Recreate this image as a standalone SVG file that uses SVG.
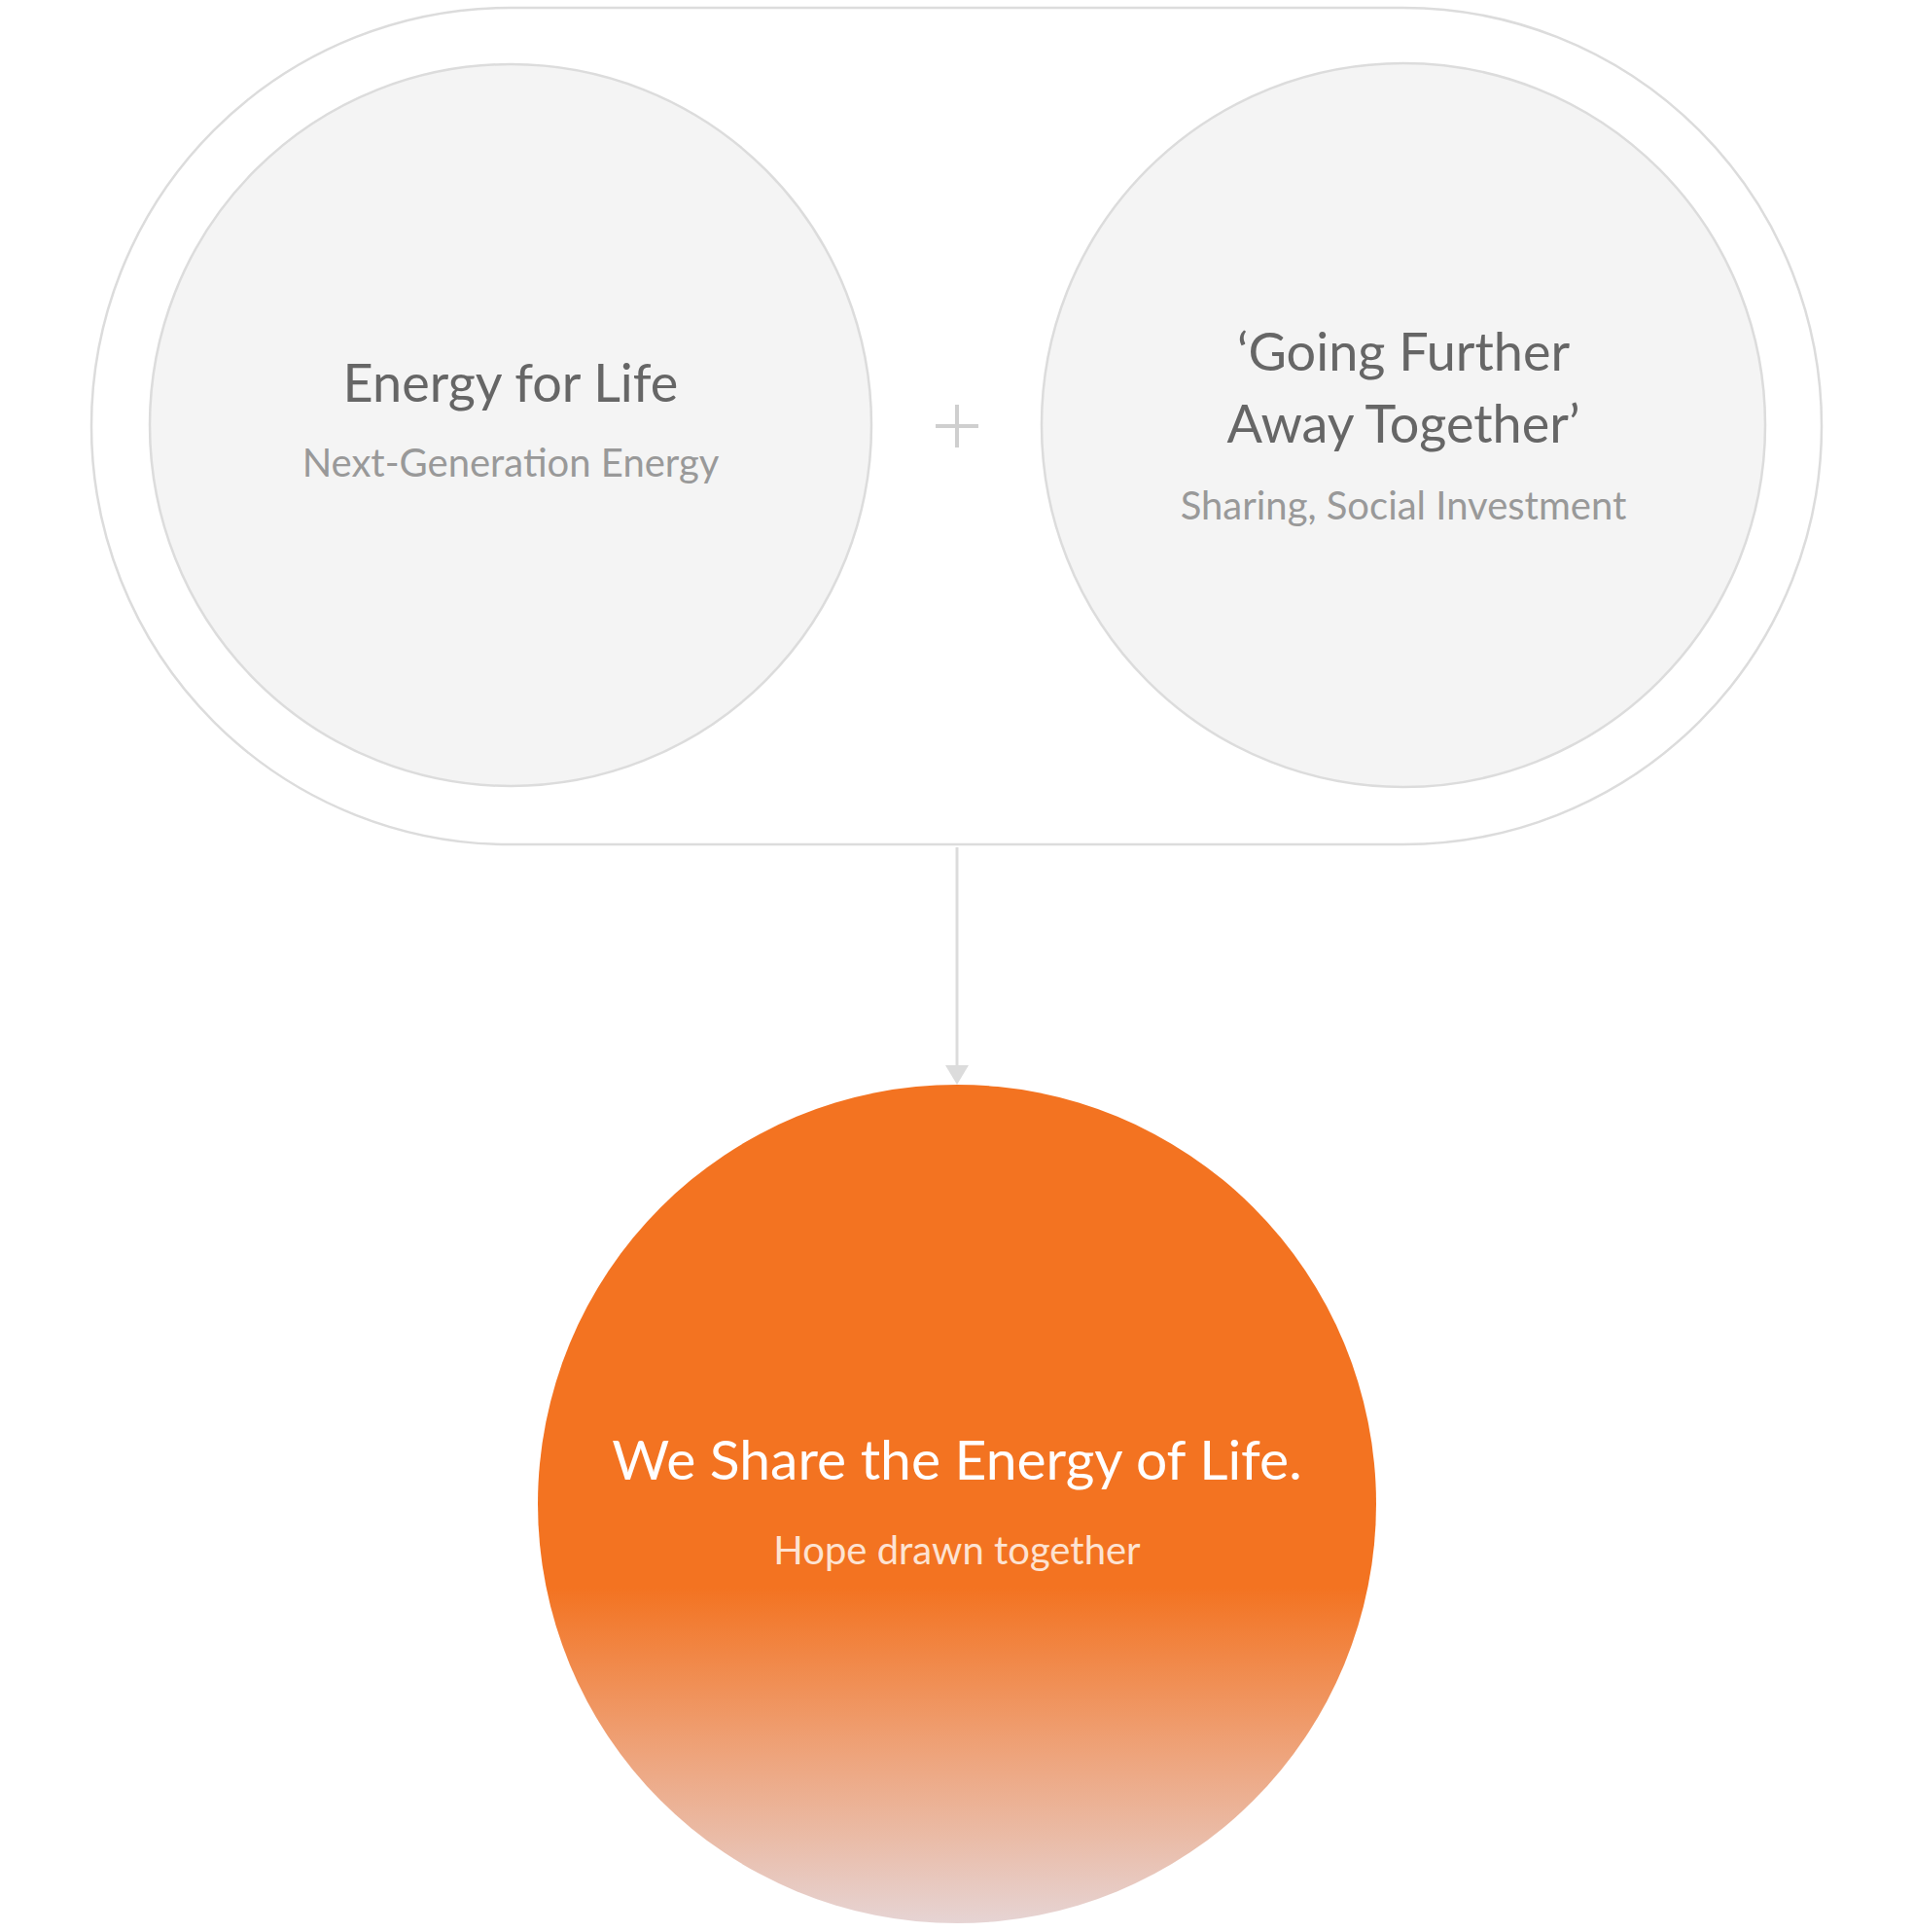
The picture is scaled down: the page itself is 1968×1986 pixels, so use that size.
<svg xmlns="http://www.w3.org/2000/svg" width="1968" height="1986" viewBox="0 0 1968 1986">
<style>
.t{font-family:Lato,"Open Sans","Liberation Sans",sans-serif;text-anchor:middle}
.h{font-size:54px;fill:#666}
.s{font-size:40px;fill:#999}
.c{fill:#f4f4f4;stroke:#dcdcdc;stroke-width:2.5}
</style>
<defs>
<linearGradient id="g" x1="0" y1="0" x2="0" y2="1">
<stop offset="0" stop-color="#F37321"/>
<stop offset="0.6" stop-color="#F37321"/>
<stop offset="0.8" stop-color="#eea47c"/>
<stop offset="1" stop-color="#e6d4d4"/>
</linearGradient>
<marker id="a" markerWidth="24" markerHeight="22" refX="12" refY="20" orient="auto-start-reverse" markerUnits="userSpaceOnUse" viewBox="0 0 24 22">
<path d="M0,0 L24,0 L12,20 Z" fill="#dcdcdc" transform="rotate(-90 12 11) translate(0 0)"/>
</marker>
</defs>
<g id="group">
<rect x="94" y="8" width="1779" height="860" rx="430" fill="#fff" stroke="#dcdcdc" stroke-width="2.5"/>
</g>
<g id="energy-for-life">
<circle class="c" cx="525" cy="437" r="371"/>
<text class="t h" x="525" y="413">Energy for Life</text>
<text class="t s" x="525" y="490">Next-Generation Energy</text>
</g>
<g id="plus">
<path d="M962,438 H1006 M984,416 V460" stroke="#cfcfcf" stroke-width="4"/>
</g>
<g id="going-further">
<circle class="c" cx="1443" cy="437" r="372"/>
<text class="t h" x="1443" y="381">‘Going Further</text>
<text class="t h" x="1443" y="455">Away Together’</text>
<text class="t s" x="1443" y="534">Sharing, Social Investment</text>
</g>
<g id="connectors">
<line x1="984" y1="871" x2="984" y2="1096" stroke="#dcdcdc" stroke-width="3"/>
<path d="M972,1095 L996,1095 L984,1115 Z" fill="#dcdcdc"/>
</g>
<g id="share">
<circle cx="984" cy="1546" r="431" fill="url(#g)"/>
<text class="t" x="984" y="1521" font-size="57" fill="#fff">We Share the Energy of Life.</text>
<text class="t" x="984" y="1608" font-size="40" fill="#fde3d2">Hope drawn together</text>
</g>
</svg>
